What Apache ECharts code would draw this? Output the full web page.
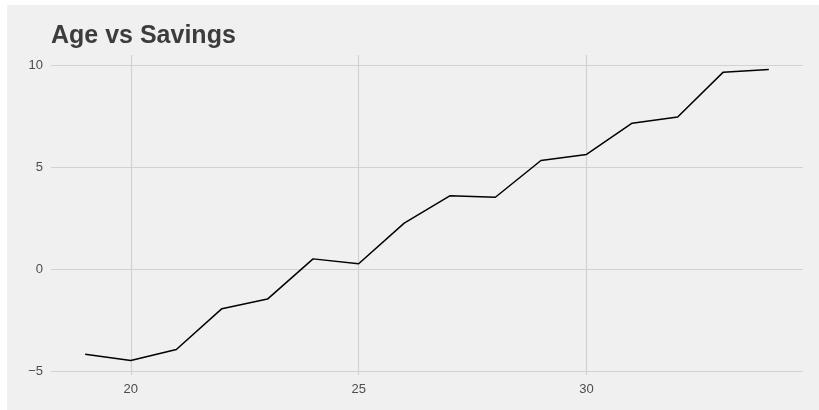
<!DOCTYPE html>
<html>
<head>
<meta charset="utf-8">
<script src="https://cdn.jsdelivr.net/npm/echarts@6/dist/echarts.min.js"></script>
<style>
  html, body { margin: 0; padding: 0; background: #ffffff; }
  #main { position: absolute; left: 7px; top: 5px; width: 812px; height: 405px; background: #f0f0f0; }
</style>
</head>
<body>
<div id="main"></div>
<script>
var ages = [19, 20, 21, 22, 23, 24, 25, 26, 27, 28, 29, 30, 31, 32, 33, 34];
var savings = [-4.15, -4.46, -3.92, -1.92, -1.45, 0.52, 0.28, 2.27, 3.61, 3.54, 5.34, 5.64, 7.17, 7.47, 9.67, 9.80];

var dom = document.getElementById("main");
var myChart = echarts.init(dom);

var points = [];
for (var i = 0; i < ages.length; i++) {
    points.push([ages[i], savings[i]]);
}

var labelStyle = {
    color: '#4d4d4d',
    fontSize: 13,
    fontFamily: 'Liberation Sans, Arial, sans-serif',
    formatter: function (v) { return String(v).replace('-', '\u2212'); }
};

var option = {
    backgroundColor: '#f0f0f0',
    animation: false,
    title: {
        text: 'Age vs Savings',
        left: 44,
        top: 19,
        padding: 0,
        textStyle: {
            color: '#3c3c3c',
            fontSize: 25,
            fontWeight: 'bold',
            fontFamily: 'Liberation Sans, Arial, sans-serif'
        }
    },
    grid: { left: 44, right: 16, top: 50, bottom: 35, containLabel: false },
    xAxis: {
        type: 'value',
        min: 18.25,
        max: 34.75,
        splitNumber: 3,
        axisLine: { show: false },
        axisTick: { show: false },
        axisLabel: Object.assign({ margin: 8, showMinLabel: false, showMaxLabel: false }, labelStyle),
        splitLine: { show: true, showMinLine: false, showMaxLine: false, lineStyle: { color: '#d2d2d2', width: 1.2 } }
    },
    yAxis: {
        type: 'value',
        min: -5.17,
        max: 10.51,
        splitNumber: 3,
        axisLine: { show: false },
        axisTick: { show: false },
        axisLabel: Object.assign({ margin: 8, showMinLabel: false, showMaxLabel: false }, labelStyle),
        splitLine: { show: true, showMinLine: false, showMaxLine: false, lineStyle: { color: '#d2d2d2', width: 1.2 } }
    },
    series: [{
        type: 'line',
        data: points,
        showSymbol: false,
        symbol: 'none',
        lineStyle: { color: '#000000', width: 1.5 }
    }]
};

myChart.setOption(option, true);
</script>
</body>
</html>
